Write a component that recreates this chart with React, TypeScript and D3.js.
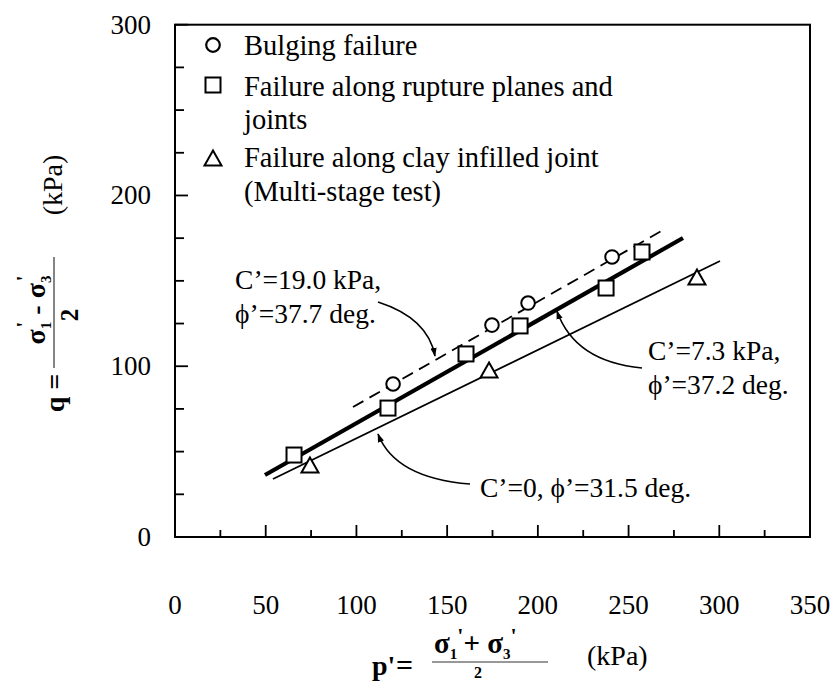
import React from 'react';
import * as d3 from 'd3';

const W = 835;
const H = 685;

// Tick values
const xTickLabels = [0, 50, 100, 150, 200, 250, 300, 350];
const xTickValues = d3.range(0, 351, 25);
const yTickLabels = [0, 100, 200, 300];
const yTickValues = d3.range(0, 301, 25);

// Data: p' (kPa) and q (kPa)
const bulgingP = [120.2, 174.7, 194.6, 240.9];
const bulgingQ = [89.6, 124.1, 137.0, 164.0];
const ruptureP = [65.6, 117.4, 160.4, 190.2, 237.6, 257.4];
const ruptureQ = [48.0, 75.5, 107.2, 123.6, 145.8, 166.9];
const clayP = [74.4, 173.1, 287.7];
const clayQ = [42.2, 97.8, 152.3];

// Failure envelopes (end points)
const dashedP = [98.1, 270.1];
const dashedQ = [76.1, 180.4];
const thickP = [49.6, 280.0];
const thickQ = [36.3, 175.1];
const thinP = [54.0, 300.4];
const thinQ = [34.0, 161.6];

// Legend
const legendLabels = [
  ['Bulging failure'],
  ['Failure along rupture planes and', 'joints'],
  ['Failure along clay infilled joint', '(Multi-stage test)'],
];

// Annotations (in data units): label lines, and curve start/control/end
const annoLabels = [
  { p: 33.1, q: 145.2, lines: ['C\u2019=19.0 kPa,', '\u03D5\u2019=37.7 deg.'] },
  { p: 260.7, q: 103.6, lines: ['C\u2019=7.3 kPa,', '\u03D5\u2019=37.2 deg.'] },
  { p: 168.1, q: 23.4, lines: ['C\u2019=0, \u03D5\u2019=31.5 deg.'] },
];
const annoCurves = [
  [[111.9, 137.6], [139.4, 128.2], [143.3, 106.0]],
  [[257.4, 99.0], [220.5, 102.5], [210.5, 132.3]],
  [[162.6, 31.0], [121.3, 34.5], [111.9, 60.3]],
];

const FONT = "'Liberation Serif', 'Times New Roman', serif";

export default function App() {
  const left = 175, right = 810, top = 24.7, bottom = 537;
  const x = d3.scaleLinear().domain([0, 350]).range([left, right]);
  const y = d3.scaleLinear().domain([0, 300]).range([bottom, top]);

  const lineGen = d3.line<[number, number]>().x(d => x(d[0])).y(d => y(d[1]));
  const seg = (ps: number[], qs: number[]) => lineGen(ps.map((p, i) => [p, qs[i]] as [number, number])) || '';

  const triPath = (cx: number, cy: number, s = 17, h = 15) =>
    `M${cx - s / 2},${cy + h / 2}L${cx + s / 2},${cy + h / 2}L${cx},${cy - h / 2}Z`;

  const curvePath = (c: number[][]) => {
    const p = d3.path();
    p.moveTo(x(c[0][0]), y(c[0][1]));
    p.quadraticCurveTo(x(c[1][0]), y(c[1][1]), x(c[2][0]), y(c[2][1]));
    return p.toString();
  };

  const legendY = [45, 85, 158];
  const legendTextY = [[55, 96], [96, 129], [167, 201]];

  return (
    <svg width={W} height={H} style={{ position: 'absolute', left: 0, top: 0, background: '#fff' }}
      fontFamily={FONT}>
      <defs>
        <marker id="arr" viewBox="0 0 10 10" refX="9" refY="5" markerWidth="9" markerHeight="9"
          orient="auto" markerUnits="userSpaceOnUse">
          <path d="M0,1.5L10,5L0,8.5Z" fill="#000" />
        </marker>
      </defs>
      <rect width={W} height={H} fill="#fff" />

      {/* frame */}
      <rect x={left} y={top} width={right - left} height={bottom - top} fill="none" stroke="#000" strokeWidth={2} />

      {/* x ticks */}
      {xTickValues.map(v => (
        <line key={'xt' + v} x1={x(v)} x2={x(v)} y1={bottom} y2={bottom - (v % 50 === 0 ? 12 : 7)}
          stroke="#000" strokeWidth={1.8} />
      ))}
      {xTickLabels.map(v => (
        <text key={'xl' + v} x={x(v)} y={614} textAnchor="middle" fontSize={27}>{v}</text>
      ))}

      {/* y ticks */}
      {yTickValues.map(v => (
        <line key={'yt' + v} x1={left} x2={left + (v % 100 === 0 ? 13 : 9)} y1={y(v)} y2={y(v)}
          stroke="#000" strokeWidth={1.8} />
      ))}
      {yTickLabels.map(v => (
        <text key={'yl' + v} x={151} y={y(v) + 9} textAnchor="end" fontSize={27}>{v}</text>
      ))}

      {/* envelopes */}
      <path d={seg(dashedP, dashedQ)} stroke="#000" strokeWidth={1.8} fill="none" strokeDasharray="12,7" />
      <path d={seg(thickP, thickQ)} stroke="#000" strokeWidth={4.2} fill="none" />
      <path d={seg(thinP, thinQ)} stroke="#000" strokeWidth={1.8} fill="none" />

      {/* markers */}
      {bulgingP.map((p, i) => (
        <circle key={'c' + i} cx={x(p)} cy={y(bulgingQ[i])} r={6.8} fill="#fff" stroke="#000" strokeWidth={2} />
      ))}
      {ruptureP.map((p, i) => (
        <rect key={'s' + i} x={x(p) - 7.5} y={y(ruptureQ[i]) - 7.5} width={15} height={15}
          fill="#fff" stroke="#000" strokeWidth={2} />
      ))}
      {clayP.map((p, i) => (
        <path key={'t' + i} d={triPath(x(p), y(clayQ[i]))} fill="#fff" stroke="#000" strokeWidth={2} strokeLinejoin="miter" />
      ))}

      {/* legend */}
      <circle cx={213} cy={legendY[0]} r={6.8} fill="#fff" stroke="#000" strokeWidth={2.2} />
      <rect x={205.5} y={legendY[1] - 7.5} width={15} height={15} fill="#fff" stroke="#000" strokeWidth={2} />
      <path d={triPath(213, legendY[2], 17, 15)} fill="#fff" stroke="#000" strokeWidth={2} />
      {legendLabels.map((ls, i) => ls.map((t, j) => (
        <text key={'lg' + i + j} x={244} y={legendTextY[i][j]} fontSize={28.5}>{t}</text>
      )))}

      {/* annotations */}
      {annoCurves.map((c, i) => (
        <path key={'ac' + i} d={curvePath(c)} fill="none" stroke="#000" strokeWidth={1.6} markerEnd="url(#arr)" />
      ))}
      {annoLabels.map((a, i) => a.lines.map((t, j) => (
        <text key={'al' + i + j} x={x(a.p)} y={y(a.q) + j * 34} fontSize={27.5}>{t}</text>
      )))}

      {/* y axis label (rotated) */}
      <g transform="rotate(-90)" fontSize={28}>
        <text x={-393} y={64} textAnchor="middle" fontWeight="bold">q =</text>
        <text x={-310} y={45} textAnchor="middle" fontWeight="bold">
          <tspan>σ</tspan>
          <tspan fontSize={15} dy={6}>1</tspan>
          <tspan fontSize={22} dy={-20} dx={-6}>'</tspan>
          <tspan dy={14}> - σ</tspan>
          <tspan fontSize={15} dy={6}>3</tspan>
          <tspan fontSize={22} dy={-20} dx={-6}>'</tspan>
        </text>
        <text x={-315} y={78} textAnchor="middle" fontWeight="bold" fontSize={25}>2</text>
        <text x={-185} y={62} textAnchor="middle">(kPa)</text>
      </g>
      <line x1={54} x2={54} y1={257} y2={368} stroke="#333" strokeWidth={1.2} />

      {/* x axis label */}
      <text x={372} y={675} fontSize={28} fontWeight="bold">p'</text>
      <text x={396} y={675} fontSize={30} fontWeight="bold">=</text>
      <text x={434} y={653} fontSize={29} fontWeight="bold">
        <tspan>σ</tspan>
        <tspan fontSize={15} dy={6}>1</tspan>
        <tspan fontSize={22} dy={-16}>'</tspan>
        <tspan dy={10}>+ σ</tspan>
        <tspan fontSize={15} dy={6}>3</tspan>
        <tspan fontSize={22} dy={-16}>'</tspan>
      </text>
      <line x1={432} x2={548} y1={662} y2={662} stroke="#333" strokeWidth={1.2} />
      <text x={478} y={678} fontSize={16} fontWeight="bold" textAnchor="middle">2</text>
      <text x={587} y={665} fontSize={28}>(kPa)</text>
    </svg>
  );
}
